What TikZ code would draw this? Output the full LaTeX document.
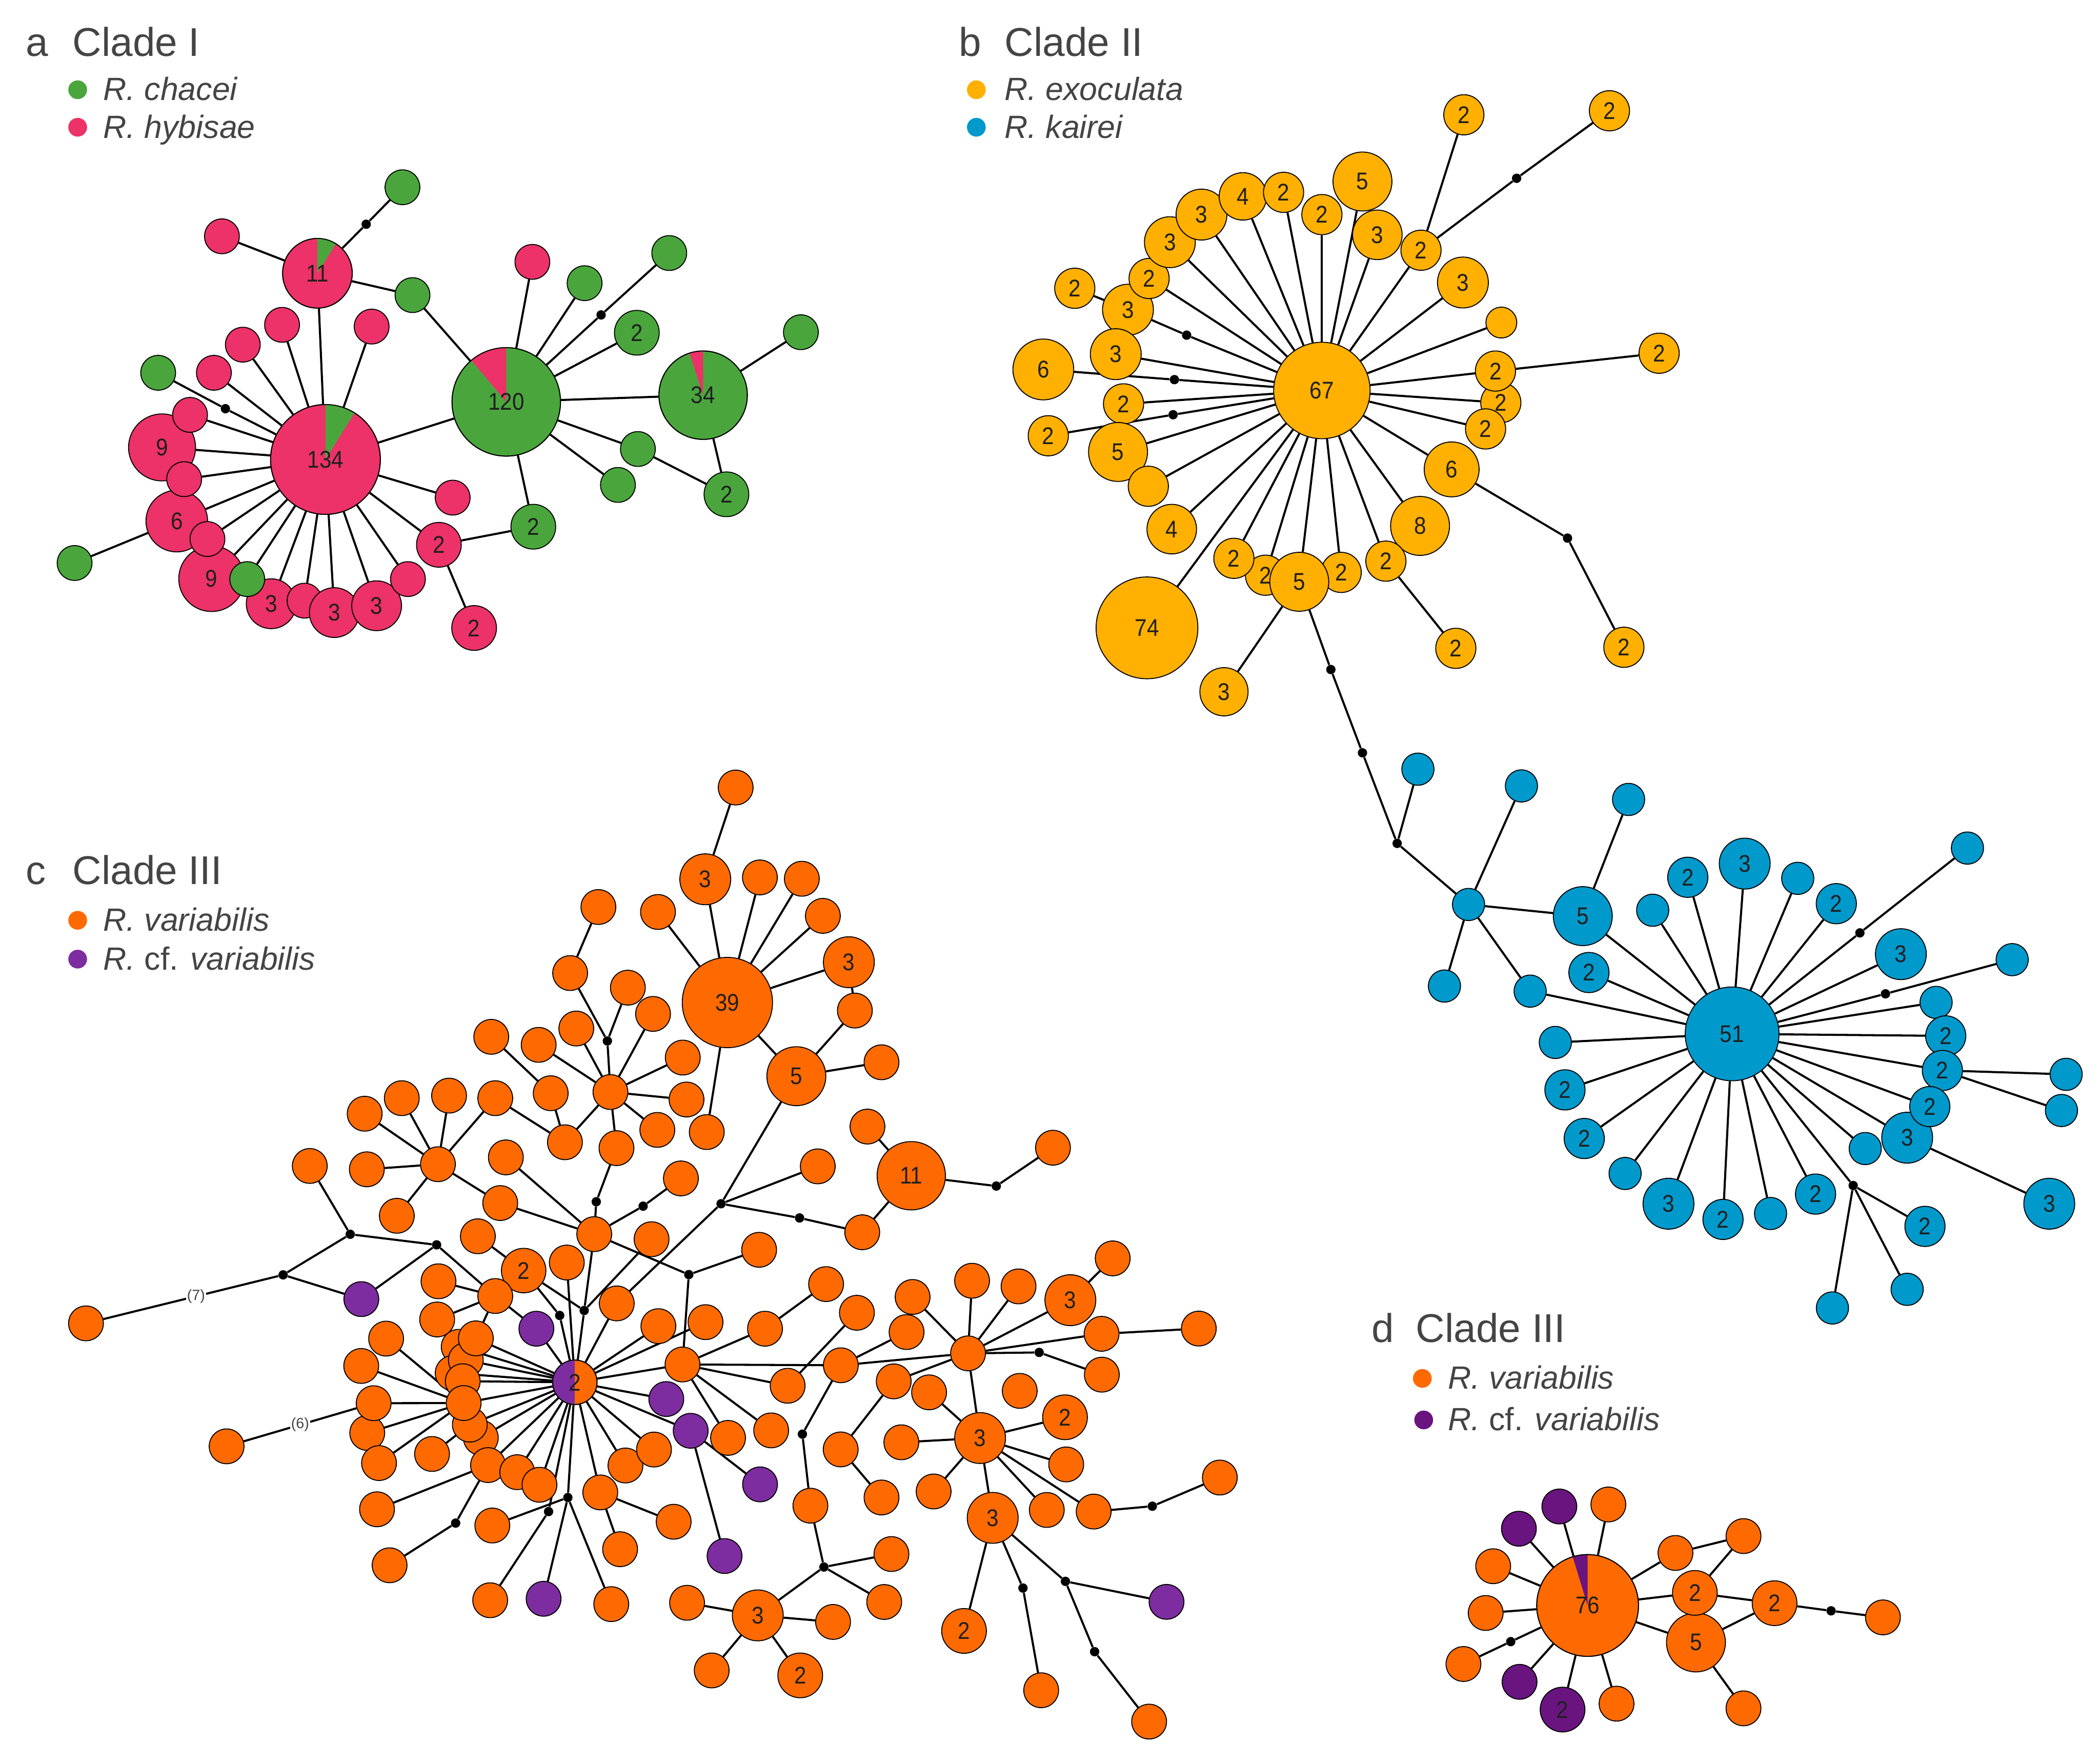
\documentclass[tikz,border=0pt]{standalone}
\usepackage{fontspec}
\setmainfont{Liberation Sans}
\newfontfamily\numfont[FakeStretch=0.9]{Liberation Sans}
\definecolor{cgreen}{RGB}{74,166,60}
\definecolor{cpink}{RGB}{236,50,104}
\definecolor{cyel}{RGB}{255,176,0}
\definecolor{cblue}{RGB}{0,153,204}
\definecolor{corange}{RGB}{255,106,0}
\definecolor{cpurple}{RGB}{125,45,160}
\definecolor{cpurpled}{RGB}{106,20,128}
\definecolor{ctext}{RGB}{68,68,68}
\pgfdeclarelayer{edgelayer}
\pgfsetlayers{edgelayer,main}
\newcommand{\Hp}[5]{\node[hap,minimum size=2*#3pt,fill=#4] (#1) at (#2) {#5};}
\newcommand{\Sg}[3]{\node[hap,minimum size=26pt,fill=#3] (#1) at (#2) {};}
\newcommand{\So}[2]{\Sg{#1}{#2}{corange}}
\newcommand{\Mv}[2]{\node[mv] (#1) at (#2) {};}
\newcommand{\Ed}[2]{\foreach \tgt in {#2}{\draw[conn] (#1) -- (\tgt);}}
\newcommand{\piewedge}[5]{\fill[#2] (#1.center) -- ++(#3:#5) arc[start angle=#3,end angle=#4,radius=#5] -- cycle; \draw[line width=0.7pt] (#1.center) circle[radius=#5];}
\newcommand{\numlab}[2]{\node[numtxt] at (#1) {#2};}
\begin{document}
\begin{tikzpicture}[x=1pt,y=-1pt,
  hap/.style={circle,draw=black,line width=0.7pt,inner sep=0pt,text=black!88,font=\numfont\fontsize{18}{18}\selectfont},
  numtxt/.style={inner sep=0pt,text=black!88,font=\numfont\fontsize{18}{18}\selectfont},
  mv/.style={circle,fill=black,inner sep=0pt,minimum size=7pt},
  conn/.style={line width=1.55pt,black},
  elab/.style={fill=white,inner sep=0.6pt,text=ctext,font=\fontsize{11}{11}\selectfont},
  ttl/.style={anchor=base west,inner sep=0pt,text=ctext,font=\fontsize{30}{30}\selectfont},
  leg/.style={anchor=base west,inner sep=0pt,text=ctext,font=\fontsize{24}{24}\selectfont\itshape},
  legdot/.style={circle,inner sep=0pt,minimum size=14pt}]
\useasboundingbox (0,0) rectangle (1568,1316);
% ---------------- titles and legends
\node[ttl] (ta1) at (19,42) {a};
\node[ttl] (ta2) at (54,42) {Clade I};
\node[legdot,fill=cgreen] (la1) at (58,67) {};
\node[leg] (lt1) at (77,75) {R. chacei};
\node[legdot,fill=cpink] (la2) at (58,95) {};
\node[leg] (lt2) at (77,103) {R. hybisae};
\node[ttl] (tb1) at (716,42) {b};
\node[ttl] (tb2) at (750,42) {Clade II};
\node[legdot,fill=cyel] (lb1) at (729,67) {};
\node[leg] (lt3) at (750,75) {R. exoculata};
\node[legdot,fill=cblue] (lb2) at (729,95) {};
\node[leg] (lt4) at (750,103) {R. kairei};
\node[ttl] (tc1) at (19,660) {c};
\node[ttl] (tc2) at (54,660) {Clade III};
\node[legdot,fill=corange] (lc1) at (58,687) {};
\node[leg] (lt5) at (77,695) {R. variabilis};
\node[legdot,fill=cpurple] (lc2) at (58,716) {};
\node[leg] (lt6) at (77,724) {R. \textup{cf.} variabilis};
\node[ttl] (td1) at (1024,1002) {d};
\node[ttl] (td2) at (1057,1002) {Clade III};
\node[legdot,fill=corange] (ld1) at (1062,1029) {};
\node[leg] (lt7) at (1081,1037) {R. variabilis};
\node[legdot,fill=cpurpled] (ld2) at (1063,1060) {};
\node[leg] (lt8) at (1081,1068) {R. \textup{cf.} variabilis};
% ---------------- panel a
\Hp{a134}{243,343}{41}{cpink}{}
\Hp{a120}{378,300}{40.5}{cgreen}{}
\Hp{a34}{525,295}{33}{cgreen}{}
\Hp{a11}{237,204}{26}{cpink}{}
\Hp{a9a}{121,334}{25}{cpink}{9}
\Hp{a6}{132,389}{23}{cpink}{6}
\Hp{a9b}{158,432}{24.5}{cpink}{9}
\Hp{a3a}{202.5,450.7}{18.6}{cpink}{3}
\Sg{ap1}{227.4,448.4}{cpink}
\Hp{a3b}{249.6,457.3}{18.6}{cpink}{3}
\Hp{a3c}{281.2,452.2}{18.6}{cpink}{3}
\Sg{ap2}{304.6,432.3}{cpink}
\Sg{ag1}{184.6,432.3}{cgreen}
\Hp{a2a}{327.7,406.7}{16.7}{cpink}{2}
\Hp{a2b}{354,468.8}{16.7}{cpink}{2}
\Hp{a2g}{398.2,393.2}{16.7}{cgreen}{2}
\Hp{a2gb}{475.5,248.4}{16.7}{cgreen}{2}
\Hp{a2gc}{542.4,369}{16.7}{cgreen}{2}
\Sg{ap3}{338,371.5}{cpink}
\Sg{ap4}{277.5,243.8}{cpink}
\Sg{ap5}{210.6,242.5}{cpink}
\Sg{ap6}{181.3,257.3}{cpink}
\Sg{ap7}{159.7,278.3}{cpink}
\Sg{ag2}{118.1,278.3}{cgreen}
\Mv{ad1}{168.3,305.1}
\Sg{ap8}{141.9,309.7}{cpink}
\Sg{ap9}{137.5,357.7}{cpink}
\Sg{ap10}{154.9,402.4}{cpink}
\Sg{ag3}{55.7,420.3}{cgreen}
\Sg{ap11}{165.7,176.4}{cpink}
\Sg{ag4}{300.5,139.8}{cgreen}
\Mv{ad2}{273.4,167.4}
\Sg{ag5}{308,220.3}{cgreen}
\Sg{ap12}{397.5,195.5}{cpink}
\Sg{ag6}{436.5,211.4}{cgreen}
\Sg{ag7}{499.7,188.9}{cgreen}
\Mv{ad3}{448.8,235.1}
\Sg{ag8}{476.3,335.2}{cgreen}
\Sg{ag9}{461.4,362}{cgreen}
\Sg{ag10}{598,248}{cgreen}
\piewedge{a134}{cgreen}{58}{90}{41pt}
\piewedge{a11}{cgreen}{58}{90}{26pt}
\piewedge{a120}{cpink}{90}{130}{40.5pt}
\piewedge{a34}{cpink}{90}{108}{33pt}
\numlab{a134}{134}
\numlab{a11}{11}
\numlab{a120}{120}
\numlab{a34}{34}
% ---------------- panel b
\Hp{b67}{987,291.5}{36}{cyel}{67}
\Hp{b74}{856.4,468.7}{38}{cyel}{74}
\Hp{b2ta}{1093,85.7}{15}{cyel}{2}
\Hp{b2tb}{1201.7,82.7}{15}{cyel}{2}
\Mv{bd1}{1132.4,133.1}
\Hp{b5t}{1017.3,135.5}{22}{cyel}{5}
\Hp{b3d}{842.2,231.2}{19}{cyel}{3}
\Hp{b2f}{858,207.9}{15}{cyel}{2}
\Hp{b3c}{873.5,180.8}{19}{cyel}{3}
\Hp{b3a}{897.1,160.2}{19}{cyel}{3}
\Hp{b4}{928,146.6}{17.7}{cyel}{4}
\Hp{b2c}{958.4,143.6}{15}{cyel}{2}
\Hp{b2d}{987,160.2}{15}{cyel}{2}
\Hp{b3b}{1028.4,175.3}{18.5}{cyel}{3}
\Hp{b2e}{1061,186.8}{15}{cyel}{2}
\Hp{b2g}{802.5,215.2}{15}{cyel}{2}
\Mv{bd2}{886,250.2}
\Hp{b3e}{833.1,264.4}{19}{cyel}{3}
\Hp{b6a}{779,275.8}{22.7}{cyel}{6}
\Mv{bd3}{876.9,283.4}
\Hp{b2h}{838.9,301.5}{15}{cyel}{2}
\Hp{b2i}{782.7,325.3}{15}{cyel}{2}
\Mv{bd4}{875.9,309.6}
\Hp{b5a}{834.8,337.4}{22}{cyel}{5}
\Hp{bs1}{857.4,363}{15}{cyel}{}
\Hp{b4b}{874.9,395}{18.5}{cyel}{4}
\Hp{b2k}{944.9,429.4}{15}{cyel}{2}
\Hp{b2j}{921.3,416.8}{15}{cyel}{2}
\Hp{b2l}{1001.4,427.3}{15}{cyel}{2}
\Hp{b5b}{970.1,434.3}{22}{cyel}{5}
\Hp{b8}{1060.3,392.6}{22}{cyel}{8}
\Hp{b2m}{1034.8,418.9}{15}{cyel}{2}
\Hp{b6b}{1083.9,350.4}{20.5}{cyel}{6}
\Hp{b2o}{1120.6,300.6}{15}{cyel}{2}
\Hp{b2n}{1109.2,320.2}{15}{cyel}{2}
\Hp{b2p}{1116.6,277}{15}{cyel}{2}
\Hp{bs2}{1121,240.8}{11.5}{cyel}{}
\Hp{b3f}{1092.3,210.9}{19}{cyel}{3}
\Hp{b3g}{913.9,516.4}{18}{cyel}{3}
\Hp{b2q}{1087,484}{15}{cyel}{2}
\Hp{b2r}{1212.5,483.2}{15}{cyel}{2}
\Mv{bd5}{1170.4,401.7}
\Hp{b2s}{1238.8,263.7}{15}{cyel}{2}
\Mv{bd6}{993.7,499.8}
\Mv{bd7}{1017.3,562}
\Mv{bd8}{1043.2,629.6}
% ---------------- panel b (kairei)
\Hp{k1}{1058.7,574.2}{12}{cblue}{}
\Hp{k2}{1096.5,675.2}{12}{cblue}{}
\Hp{k3}{1136,586.7}{12}{cblue}{}
\Hp{k5}{1181.8,683.9}{22}{cblue}{5}
\Hp{k4}{1216,596.8}{12}{cblue}{}
\Hp{k6}{1078.5,736.1}{12}{cblue}{}
\Hp{k7}{1142.5,739.9}{12}{cblue}{}
\Hp{k51}{1293.3,771.8}{35}{cblue}{51}
\Hp{k8}{1234,679.5}{12}{cblue}{}
\Hp{k9}{1260.2,654.9}{15}{cblue}{2}
\Hp{k10}{1302.7,644.7}{19}{cblue}{3}
\Hp{k11}{1342.3,655.7}{12}{cblue}{}
\Hp{k12}{1371.1,674.6}{15}{cblue}{2}
\Mv{kd1}{1388.7,696.4}
\Hp{k13}{1469,633.1}{12}{cblue}{}
\Hp{k14}{1419.3,712.3}{19}{cblue}{3}
\Mv{kd2}{1407.8,741.9}
\Hp{k15}{1502.4,716.4}{12}{cblue}{}
\Hp{k16}{1445.6,748.3}{12}{cblue}{}
\Hp{k17}{1452.8,773.3}{15}{cblue}{2}
\Hp{k18}{1450.3,799.1}{15}{cblue}{2}
\Hp{k19}{1542.7,802}{12}{cblue}{}
\Hp{k20}{1539.2,829}{12}{cblue}{}
\Hp{k22}{1424,849.3}{19}{cblue}{3}
\Hp{k21}{1440.9,826.1}{15}{cblue}{2}
\Hp{k23}{1530.1,898.6}{19}{cblue}{3}
\Hp{k24}{1392.7,857.4}{12}{cblue}{}
\Mv{kd3}{1383.7,885}
\Hp{k25}{1437.3,915.5}{15}{cblue}{2}
\Hp{k26}{1424,962.5}{12}{cblue}{}
\Hp{k27}{1368.2,976.4}{12}{cblue}{}
\Hp{k28}{1355.6,891.4}{15}{cblue}{2}
\Hp{k29}{1322,905.9}{12}{cblue}{}
\Hp{k30}{1286.5,910.3}{15}{cblue}{2}
\Hp{k31}{1245.8,898.6}{19}{cblue}{3}
\Hp{k32}{1213.4,876}{12}{cblue}{}
\Hp{k33}{1182.9,849.9}{15}{cblue}{2}
\Hp{k34}{1168.5,813.6}{15}{cblue}{2}
\Hp{k35}{1161.3,778.2}{12}{cblue}{}
\Hp{k36}{1186.4,726}{15}{cblue}{2}
% ---------------- panel c
\So{c1}{549.3,587.9}
\Hp{c3a}{526.6,656.4}{19}{corange}{3}
\So{c2}{567.4,655}
\So{c3}{598.7,656}
\So{c4}{491.3,680.8}
\So{c5}{614.4,683.7}
\Hp{c39}{543.1,748.4}{33.7}{corange}{39}
\Hp{c3b}{633.8,718.3}{19}{corange}{3}
\So{c6}{638.3,754.4}
\Hp{c5n}{594.6,803.4}{22}{corange}{5}
\So{c7}{658.2,793}
\So{c8}{527.7,845.1}
\So{c9}{446.8,677.1}
\So{c10}{425.7,726.4}
\So{c11}{468.8,737.3}
\Mv{cd1}{453.5,777.1}
\So{c12}{487.6,756.9}
\So{c13}{430.3,767.8}
\So{c14}{402.2,780}
\So{c15}{366.8,774}
\So{ch3}{455.8,815.2}
\So{c16}{509.8,789.5}
\So{c17}{512.6,820.8}
\So{c18}{490.8,843.5}
\So{c19}{460.3,857.1}
\So{c20}{421.8,852.7}
\So{c21}{411.2,816.1}
\So{c22}{369.8,819.8}
\So{ch2}{327,869.1}
\So{c23}{272.3,831.4}
\So{c24}{300,819.8}
\So{c25}{335.3,817.9}
\So{c26}{231.3,870.4}
\So{c27}{273.9,872.9}
\So{c28}{296.3,907.6}
\So{c29}{377.7,864}
\So{c30}{373.5,898.1}
\So{c31}{443.7,921.3}
\Mv{cd2}{445.2,897.1}
\Mv{cd3}{480.2,900.4}
\So{c32}{508.4,879.7}
\So{c33}{486.5,925.1}
\Mv{cd4}{538.4,898.6}
\So{c34}{610.6,870.7}
\Mv{cd5}{597,909.2}
\So{c35}{643.8,919.9}
\So{c36}{647.7,841}
\Hp{c11n}{680.4,877.7}{25.5}{corange}{11}
\Mv{cd6}{743.9,885.4}
\So{c37}{786.2,856.8}
\Mv{cd7}{514.3,951.5}
\So{c38}{566.8,933}
\Mv{cd8}{261.5,921.4}
\Mv{cd9}{326,929.3}
\Mv{cd10}{211.4,951.7}
\So{c39s}{64.2,987.9}
\Sg{cp1}{269.8,969.8}{cpurple}
\So{c40}{356.8,922.9}
\So{c41}{423.2,942.5}
\Hp{c2n}{391,948.5}{16.6}{corange}{2}
\So{c42}{327.4,956.5}
\So{c44}{326.4,985}
\So{c43}{369.8,967.5}
\Mv{cd11}{417.9,982}
\Mv{cd12}{436.2,978.3}
\Sg{cp2}{400.5,991.9}{cpurple}
\So{c45}{460.5,973}
\So{c46}{288.3,999.3}
\So{c47}{269.7,1019.7}
\So{c49}{274.2,1069.7}
\So{c48}{279,1047.5}
\So{c50}{283,1092.2}
\So{c51}{322.6,1085.4}
\So{c52}{281.5,1126.7}
\So{c53}{290.9,1168.5}
\Mv{cd13}{340.2,1137}
\So{c54}{169.2,1079.7}
\So{cc1}{342.5,1005.4}
\So{cc2}{338,1025}
\So{cc4}{347.8,1015.3}
\So{cc3}{355.3,999.1}
\So{cc5}{345.5,1031.1}
\So{cc8}{359,1073.3}
\So{cc7}{350.8,1063.5}
\So{cc6}{346.2,1047.4}
\So{cc9}{364.4,1093.7}
\So{c55}{386.2,1099}
\So{c56}{402.8,1108.4}
\So{c57}{367.6,1138.8}
\Mv{cd14}{424,1117.9}
\Mv{cd15}{409.6,1128.4}
\So{c58}{366,1194.6}
\Sg{cp3}{405.9,1193.5}{cpurple}
\So{c59}{456.4,1197.5}
\So{c62}{467,1094}
\So{c60}{448.2,1114.1}
\So{c61}{463,1156.5}
\So{c63}{503,1136}
\So{c64}{488.3,1082.1}
\Sg{cp4}{497.5,1044.4}{cpurple}
\Sg{cp5}{515.7,1068.1}{cpurple}
\Sg{cp6}{567.5,1108.1}{cpurple}
\Sg{cp7}{541,1161.6}{cpurple}
\So{c65}{491.6,990}
\So{c66}{526.8,987}
\So{c67}{509.6,1018.6}
\So{c68}{543.6,1073.4}
\So{c69}{575.8,1067.8}
\So{c70}{571.2,991.9}
\So{c71}{616.8,958.6}
\So{c72}{588.1,1034.5}
\So{c73}{639.8,980}
\So{c74}{627.8,1019.2}
\So{c75}{676.9,994.4}
\Mv{cd16}{599.1,1070.6}
\So{c76}{605.1,1124}
\Mv{cd17}{615.2,1169.8}
\So{c77}{665.6,1160.1}
\So{c78}{660.2,1195.9}
\Hp{c3c}{565.8,1205.9}{19}{corange}{3}
\So{c79}{513,1196.5}
\So{c80}{622,1210.8}
\So{c81}{531.4,1247}
\Hp{c2b}{597.5,1250.7}{16.7}{corange}{2}
\So{c82}{667.3,1031.2}
\So{c83}{627.7,1082}
\So{c84}{658.2,1117.9}
\So{c85}{681.4,968.2}
\So{ch4}{722.8,1010.3}
\So{c86}{725.8,956.1}
\So{c87}{760.5,960.3}
\Hp{c3d}{799.2,970.6}{19}{corange}{3}
\So{c88}{830.8,939.4}
\So{c89}{822.5,995.7}
\So{c90}{895.1,991.8}
\Mv{cd18}{775.9,1009.6}
\So{c91}{822.7,1026.2}
\So{c92}{693.7,1039.4}
\So{c93}{761.4,1038.3}
\Hp{c3e}{731.8,1073.5}{19}{corange}{3}
\Hp{c2c}{795.2,1058}{16.7}{corange}{2}
\So{c94}{673,1076.7}
\So{c95}{796.1,1093.2}
\So{c96}{697.1,1113.4}
\So{c97}{781.6,1127.2}
\So{c98}{816.6,1128.4}
\Mv{cd19}{860.4,1124.4}
\So{c99}{910.8,1103}
\Hp{c3f}{741.2,1133.1}{19}{corange}{3}
\Hp{c2d}{719.8,1217.5}{16.7}{corange}{2}
\Mv{cd20}{763.8,1185.5}
\So{c100}{777.4,1261.8}
\Mv{cd21}{795.5,1180.5}
\Sg{cp8}{871,1195.8}{cpurple}
\Mv{cd22}{817.3,1233}
\So{c101}{858,1285.2}
\Hp{chub}{429.2,1031.9}{16.6}{corange}{}
\piewedge{chub}{cpurple}{90}{270}{16.6pt}
\numlab{chub}{2}
% ---------------- panel d
\Hp{d76}{1185.4,1198.5}{38}{corange}{}
\Sg{dp1}{1164.3,1124.6}{cpurpled}
\Sg{do1}{1200.9,1123.1}{corange}
\Sg{dp2}{1134.1,1141.2}{cpurpled}
\Sg{do2}{1114.9,1169.2}{corange}
\Sg{do3}{1109.3,1204.1}{corange}
\Mv{dd1}{1128,1225.5}
\Sg{do4}{1092.7,1242.2}{corange}
\Sg{dp3}{1134.6,1255.5}{cpurpled}
\Hp{dp2n}{1166.7,1276.2}{16.7}{cpurpled}{2}
\Sg{do5}{1207,1271.8}{corange}
\Sg{do6}{1251,1159.3}{corange}
\Sg{do7}{1301.8,1146.7}{corange}
\Hp{d5}{1266.3,1226.1}{22}{corange}{5}
\Hp{d2a}{1265.5,1189.1}{16.7}{corange}{2}
\Hp{d2b}{1325,1196.8}{16.7}{corange}{2}
\Mv{dd2}{1367.2,1202.5}
\Sg{do8}{1405.9,1207.4}{corange}
\Sg{do9}{1301.8,1275.3}{corange}
\piewedge{d76}{cpurpled}{90}{107}{38pt}
\numlab{d76}{76}
% ---------------- connectors
\begin{pgfonlayer}{edgelayer}
\Ed{a134}{a11,ap5,ap6,ap7,ad1,ap8,a9a,ap9,a6,ap10,a9b,ag1,a3a,ap1,a3b,a3c,ap2,a2a,ap3,ap4,a120}
\Ed{ad1}{ag2}
\Ed{a6}{ag3}
\Ed{a11}{ap11,ad2,ag5}
\Ed{ad2}{ag4}
\Ed{ag5}{a120}
\Ed{a120}{ap12,ag6,ad3,a2gb,a34,ag8,ag9,a2g}
\Ed{ad3}{ag7}
\Ed{a2g}{a2a}
\Ed{a2a}{a2b}
\Ed{a34}{ag10,a2gc}
\Ed{ag8}{a2gc}
%
\Ed{b67}{b5t,b2c,b4,b3a,b2d,b3b,b2e,b3c,b2f,bd2,b3e,bd3,b2h,bd4,b5a,bs1,b4b,b74,b2j,b2k,b5b,b2l,b2m,b8,b6b,b2n,b2o,b2p,bs2,b3f}
\Ed{bd2}{b3d}
\Ed{b3d}{b2g}
\Ed{bd3}{b6a}
\Ed{bd4}{b2i}
\Ed{b2e}{b2ta,bd1}
\Ed{bd1}{b2tb}
\Ed{b2p}{b2s}
\Ed{b6b}{bd5}
\Ed{bd5}{b2r}
\Ed{b2m}{b2q}
\Ed{b5b}{b3g,bd6}
\Ed{bd6}{bd7}
\Ed{bd7}{bd8}
%
\Ed{bd8}{k1,k2}
\Ed{k2}{k3,k5,k6,k7}
\Ed{k5}{k4,k51}
\Ed{k7}{k51}
\Ed{k51}{k36,k8,k9,k10,k11,k12,kd1,k14,kd2,k16,k17,k18,k21,k22,k24,kd3,k28,k29,k30,k31,k32,k33,k34,k35}
\Ed{kd1}{k13}
\Ed{kd2}{k15}
\Ed{k18}{k19,k20}
\Ed{k22}{k23}
\Ed{kd3}{k25,k26,k27}
%
\Ed{c3a}{c1}
\Ed{c39}{c3a,c2,c3,c4,c5,c3b,c5n,c8}
\Ed{c3b}{c6}
\Ed{c6}{c5n}
\Ed{c5n}{c7,cd4}
\Ed{c9}{c10}
\Ed{cd1}{c10,c11,ch3}
\Ed{ch3}{c13,c14,c12,c16,c17,c18,c19,c20}
\Ed{c20}{c21,c22}
\Ed{c21}{c15}
\Ed{c22}{ch2}
\Ed{ch2}{c23,c24,c25,c27,c28,c30}
\Ed{c19}{cd2}
\Ed{cd2}{c31}
\Ed{c31}{c29,c30,cd3,cd7,cd12}
\Ed{cd3}{c32}
\Ed{cd4}{c34,cd5,c45}
\Ed{cd5}{c35}
\Ed{c11n}{c35,c36,cd6}
\Ed{cd6}{c37}
\Ed{cd7}{c38,c67}
\Ed{cd8}{c26,cd9,cd10}
\draw[conn] (cd10) -- node[elab,pos=0.47]{(7)} (c39s);
\Ed{cp1}{cd10,cd9}
\Ed{cd9}{c43}
\Ed{c2n}{c40,cd11,cd12}
\Ed{chub}{cd11,cd12,c41,cp2,c45,cc1,cc2,cc3,cc4,cc5,cc6,cc7,cc8,cc9,c55,c56,c60,c62,c64,cp5,cp4,c67,c66,c65,cd14,cd15}
\Ed{cd12}{c33}
\Ed{c43}{c42,c44,cc3,cp2}
\Ed{cc6}{c46,c47,c48,c49,c50}
\draw[conn] (c54) -- node[elab,pos=0.5]{(6)} (c48);
\Ed{cc7}{c51}
\Ed{cc9}{c52,cd13}
\Ed{cd13}{c53}
\Ed{cd14}{c57,cp3,c59}
\Ed{cd15}{c58}
\Ed{c60}{c63,c61}
\Ed{cp5}{cp6,cp7}
\Ed{c67}{c70,c74,c72,c69,c68}
\Ed{c70}{c71}
\Ed{c72}{c73}
\Ed{c74}{c75,ch4,cd16}
\Ed{cd16}{c76}
\Ed{c76}{cd17}
\Ed{cd17}{c77,c78,c3c}
\Ed{c3c}{c79,c80,c81,c2b}
\Ed{c82}{ch4,c83}
\Ed{c83}{c84}
\Ed{ch4}{c85,c86,c87,c3d,c89,cd18,c3e}
\Ed{c3d}{c88}
\Ed{c89}{c90}
\Ed{cd18}{c91}
\Ed{c3e}{c92,c2c,c94,c95,c96,c97,c98,c3f}
\Ed{c98}{cd19}
\Ed{cd19}{c99}
\Ed{c3f}{c2d,cd20,cd21}
\Ed{cd20}{c100}
\Ed{cd21}{cp8,cd22}
\Ed{cd22}{c101}
%
\Ed{d76}{dp1,do1,dp2,do2,do3,dd1,dp3,dp2n,do5,do6,d2a,d5}
\Ed{dd1}{do4}
\Ed{do6}{do7}
\Ed{do7}{d2a}
\Ed{d2b}{d2a,d5,dd2}
\Ed{dd2}{do8}
\Ed{d5}{do9}
\end{pgfonlayer}
\end{tikzpicture}
\end{document}
